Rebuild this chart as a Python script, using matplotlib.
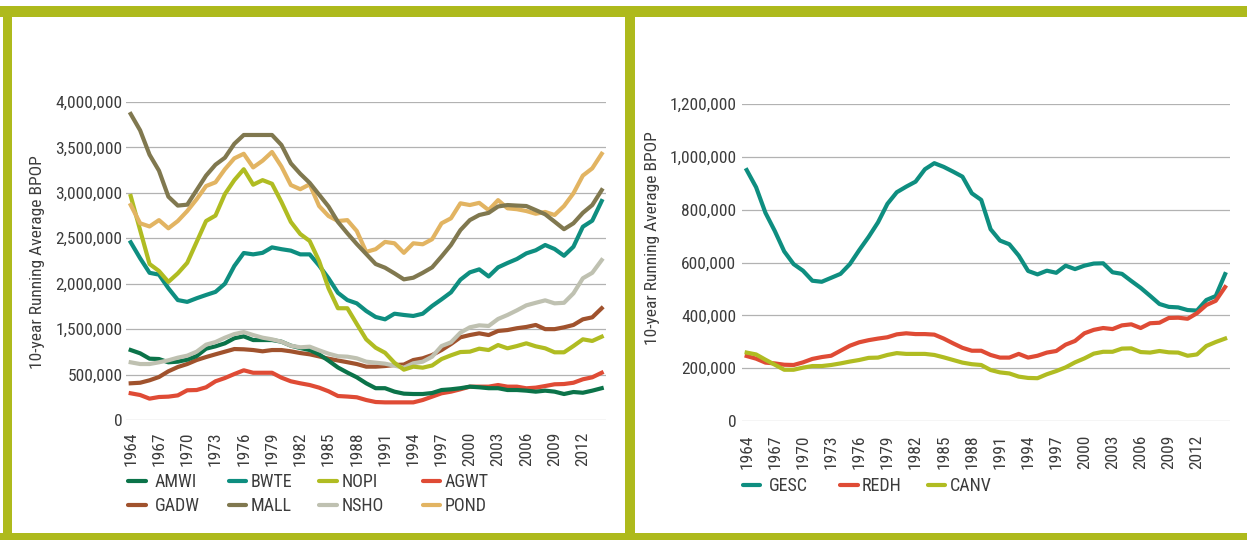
import matplotlib
matplotlib.use('Agg')
import matplotlib.pyplot as plt
from matplotlib import font_manager as fm
from matplotlib.lines import Line2D
from matplotlib.patches import Rectangle

# ---------------- font choice: a condensed sans if one is installed ----------------
_names = {f.name for f in fm.fontManager.ttflist}
_stretched = {(f.name, str(f.stretch)) for f in fm.fontManager.ttflist}
FONT_STRETCH = "normal"
if "Liberation Sans Narrow" in _names:
    FONT_FAMILY = ["Liberation Sans Narrow", "DejaVu Sans"]
    FS, FS_LEG = 13, 13.5
elif "Roboto Condensed" in _names:
    FONT_FAMILY = ["Roboto Condensed", "DejaVu Sans"]
    FS, FS_LEG = 12.5, 13
elif ("DejaVu Sans", "condensed") in _stretched:
    FONT_FAMILY = ["DejaVu Sans"]
    FONT_STRETCH = "condensed"
    FS, FS_LEG = 11.5, 12
else:
    FONT_FAMILY = ["Roboto", "DejaVu Sans"]
    FS, FS_LEG = 11.5, 12
plt.rcParams['font.family'] = FONT_FAMILY
plt.rcParams['font.stretch'] = FONT_STRETCH

# ---------------- data (thousands, in axis units) ----------------
years_left = list(range(1964, 2015))
years_right = list(range(1964, 2016))

AMWI = [770, 734, 675, 671, 635, 642, 664, 704, 785, 811,
        844, 900, 921, 880, 880, 880, 862, 818, 792, 770,
        723, 653, 578, 522, 470, 404, 350, 350, 312, 290,
        286, 286, 297, 330, 338, 350, 367, 360, 350, 350,
        330, 330, 323, 312, 323, 312, 286, 308, 300, 323,
        350]
BWTE = [1956, 1780, 1620, 1600, 1450, 1320, 1300, 1340, 1376, 1410,
        1500, 1695, 1838, 1823, 1840, 1900, 1880, 1864, 1823, 1823,
        1700, 1560, 1400, 1320, 1284, 1200, 1134, 1108, 1170, 1156,
        1145, 1170, 1255, 1328, 1405, 1544, 1625, 1658, 1580, 1680,
        1728, 1772, 1834, 1868, 1926, 1882, 1808, 1907, 2127, 2194,
        2410]
NOPI = [2465, 2090, 1717, 1640, 1520, 1614, 1730, 1960, 2190, 2250,
        2487, 2640, 2760, 2590, 2640, 2600, 2400, 2180, 2047, 1970,
        1750, 1450, 1230, 1230, 1057, 888, 796, 740, 630, 554,
        587, 576, 600, 671, 712, 748, 752, 785, 770, 825,
        789, 814, 844, 811, 789, 745, 745, 814, 888, 870,
        917]
AGWT = [294, 275, 235, 253, 257, 271, 327, 330, 360, 426,
        462, 506, 547, 520, 520, 520, 466, 426, 404, 385,
        356, 316, 264, 258, 250, 220, 198, 194, 194, 194,
        194, 220, 257, 294, 312, 338, 367, 367, 367, 385,
        367, 367, 349, 356, 374, 393, 396, 410, 448, 470,
        520]
GADW = [404, 410, 437, 473, 536, 583, 616, 660, 693, 723,
        752, 781, 778, 770, 756, 770, 770, 756, 737, 723,
        700, 675, 655, 636, 616, 587, 587, 594, 605, 610,
        660, 679, 715, 770, 836, 910, 935, 954, 935, 980,
        990, 1010, 1024, 1046, 1000, 1000, 1020, 1046, 1108, 1130,
        1230]
MALL = [3368, 3188, 2920, 2744, 2458, 2360, 2370, 2530, 2690, 2810,
        2887, 3040, 3137, 3137, 3137, 3137, 3027, 2825, 2710, 2610,
        2480, 2350, 2180, 2055, 1937, 1827, 1717, 1676, 1614, 1548,
        1566, 1620, 1680, 1800, 1926, 2090, 2200, 2256, 2280, 2350,
        2366, 2360, 2355, 2310, 2264, 2183, 2100, 2165, 2280, 2366,
        2530]
NSHO = [635, 616, 616, 635, 657, 686, 708, 752, 829, 858,
        906, 946, 968, 935, 906, 888, 862, 818, 800, 807,
        767, 730, 702, 697, 679, 642, 631, 620, 598, 576,
        624, 642, 697, 814, 855, 961, 1020, 1042, 1035, 1112,
        1156, 1207, 1262, 1290, 1317, 1284, 1290, 1394, 1560, 1620,
        1760]
POND = [2366, 2165, 2130, 2200, 2110, 2190, 2300, 2430, 2575, 2616,
        2760, 2880, 2930, 2780, 2854, 2950, 2790, 2586, 2540, 2594,
        2355, 2245, 2190, 2200, 2080, 1850, 1880, 1960, 1945, 1840,
        1945, 1934, 1990, 2165, 2220, 2385, 2366, 2390, 2310, 2420,
        2330, 2320, 2300, 2270, 2290, 2256, 2355, 2495, 2690, 2770,
        2930]

GESC = [950, 885, 788, 719, 642, 594, 569, 531, 527, 542,
        557, 594, 647, 697, 752, 822, 866, 887, 906, 953,
        976, 962, 944, 925, 862, 837, 726, 683, 669, 626,
        568, 555, 569, 561, 588, 575, 588, 596, 597, 563,
        557, 530, 504, 474, 443, 432, 430, 420, 418, 458,
        473, 556]
REDH = [246, 236, 221, 218, 213, 212, 222, 235, 242, 247,
        266, 285, 298, 306, 312, 317, 328, 332, 329, 329,
        327, 312, 294, 277, 266, 266, 250, 240, 240, 254,
        240, 247, 259, 265, 289, 303, 332, 345, 352, 348,
        362, 366, 352, 370, 372, 390, 391, 387, 408, 439,
        455, 507]
CANV = [259, 252, 232, 213, 194, 194, 202, 208, 208, 212,
        218, 225, 231, 239, 240, 250, 257, 254, 254, 254,
        250, 241, 231, 221, 215, 212, 193, 184, 180, 168,
        163, 162, 177, 189, 203, 222, 237, 255, 262, 262,
        274, 275, 261, 259, 265, 260, 259, 247, 252, 284,
        299, 312]

left_series = [("AMWI", AMWI), ("BWTE", BWTE), ("NOPI", NOPI), ("AGWT", AGWT),
               ("GADW", GADW), ("MALL", MALL), ("NSHO", NSHO), ("POND", POND)]
right_series = [("GESC", GESC), ("REDH", REDH), ("CANV", CANV)]

left_ytick_vals = [0, 500, 1000, 1500, 2000, 2500, 3000, 3500]
left_ytick_labels = ["0", "500,000", "1,500,000", "2,000,000", "2,500,000",
                     "3,000,000", "3,500,000", "4,000,000"]
right_ytick_vals = [0, 200, 400, 600, 800, 1000, 1200]
right_ytick_labels = ["0", "200,000", "400,000", "600,000", "800,000",
                      "1,000,000", "1,200,000"]
xtick_years = list(range(1964, 2013, 3))
ylabel_text = "10-year Running Average BPOP"

# ---------------- styles ----------------
colors = {
    "AMWI": "#0B7349", "BWTE": "#0E8E80", "NOPI": "#B0BC22", "AGWT": "#DF4B35",
    "GADW": "#A0522D", "MALL": "#80784F", "NSHO": "#BFC1B1", "POND": "#E2B462",
    "GESC": "#0E8E80", "REDH": "#DF4B35", "CANV": "#B0BC22",
}
draw_order_left = ["AGWT", "GADW", "AMWI", "NSHO", "BWTE", "NOPI", "POND", "MALL"]
txt_color = "#3C3C3C"
grid_color = "#B2B2B2"
frame_color = "#AEBA1C"
LW = 3.0

W, H = 1247, 540
fig = plt.figure(figsize=(W / 100, H / 100), dpi=100)
fig.patch.set_facecolor("white")


def fx(px):
    return px / W


def fy(py):
    return 1 - py / H


def style_axes(ax, yvals, ylabels, ylim, xlim, ypad, xpad):
    for s in ax.spines.values():
        s.set_visible(False)
    ax.set_ylim(*ylim)
    ax.set_xlim(*xlim)
    ax.set_yticks(yvals)
    ax.set_yticklabels(ylabels)
    ax.set_xticks(xtick_years)
    ax.set_xticklabels([str(y) for y in xtick_years], rotation=90)
    ax.tick_params(axis="both", length=0, labelsize=FS, colors=txt_color)
    ax.tick_params(axis="y", pad=ypad)
    ax.tick_params(axis="x", pad=xpad)
    ax.grid(axis="y", color=grid_color, linewidth=0.9)
    ax.set_axisbelow(True)


# left chart
axL = fig.add_axes([fx(126), fy(420), fx(606.4) - fx(126), fy(102) - fy(420)])
sd = dict(left_series)
for name in draw_order_left:
    axL.plot(years_left, [v * 1000 for v in sd[name]], color=colors[name],
             linewidth=LW, solid_joinstyle="round", zorder=3)
style_axes(axL, [v * 1000 for v in left_ytick_vals], left_ytick_labels,
           (0, 3500 * 1000), (1963.5, 2014.5), 2.5, 8.5)

# right chart
axR = fig.add_axes([fx(742), fy(421), fx(1229.8) - fx(742), fy(104) - fy(421)])
for name, vals in right_series:
    axR.plot(years_right, [v * 1000 for v in vals], color=colors[name],
             linewidth=LW, solid_joinstyle="round", zorder=3)
style_axes(axR, [v * 1000 for v in right_ytick_vals], right_ytick_labels,
           (0, 1200 * 1000), (1963.5, 2015.5), 4.0, 10.0)

# y labels
fig.text(fx(38), fy(262), ylabel_text, rotation=90, ha="center", va="center",
         fontsize=FS, color=txt_color)
fig.text(fx(653), fy(238), ylabel_text, rotation=90, ha="center", va="center",
         fontsize=FS, color=txt_color)


# legends: one small legend per entry, placed at its handle position
def add_entry(name, hx, ty, cy):
    h = Line2D([], [], color=colors[name], linewidth=LW, solid_capstyle="round")
    hl = 17.5
    em = FS_LEG * 100 / 72
    leg = fig.legend([h], [name], loc="center left",
                     bbox_to_anchor=(fx(hx), fy(cy)), bbox_transform=fig.transFigure,
                     frameon=False, fontsize=FS_LEG, borderpad=0, borderaxespad=0,
                     handlelength=hl / em, handletextpad=(ty - hx - hl) / em,
                     labelcolor=txt_color)
    return leg


left_legend_pos = {
    "AMWI": (128, 155, 482), "BWTE": (228.5, 250.5, 482),
    "NOPI": (319, 341.5, 482), "AGWT": (422.5, 445, 482),
    "GADW": (128, 155, 506), "MALL": (228.5, 250.5, 506),
    "NSHO": (319, 341.5, 506), "POND": (422.5, 445, 506),
}
for name, _ in left_series:
    hx, ty, cy = left_legend_pos[name]
    add_entry(name, hx, ty, cy)

right_legend_pos = {"GESC": (742.5, 769, 486), "REDH": (840, 862, 486),
                    "CANV": (927.5, 950, 486)}
for name, _ in right_series:
    hx, ty, cy = right_legend_pos[name]
    add_entry(name, hx, ty, cy)

# frame bars
bars = [
    (0, 6, W, 11),        # top
    (3, 6, 9, H - 6),     # left
    (625, 6, 10, H - 6),  # middle
    (0, 533, W, 7),       # bottom
]
for x, y, w, h in bars:
    fig.patches.append(Rectangle((fx(x), fy(y + h)), w / W, h / H,
                                 transform=fig.transFigure, facecolor=frame_color,
                                 edgecolor="none", zorder=10))

fig.savefig("out.png", dpi=100, facecolor="white")
